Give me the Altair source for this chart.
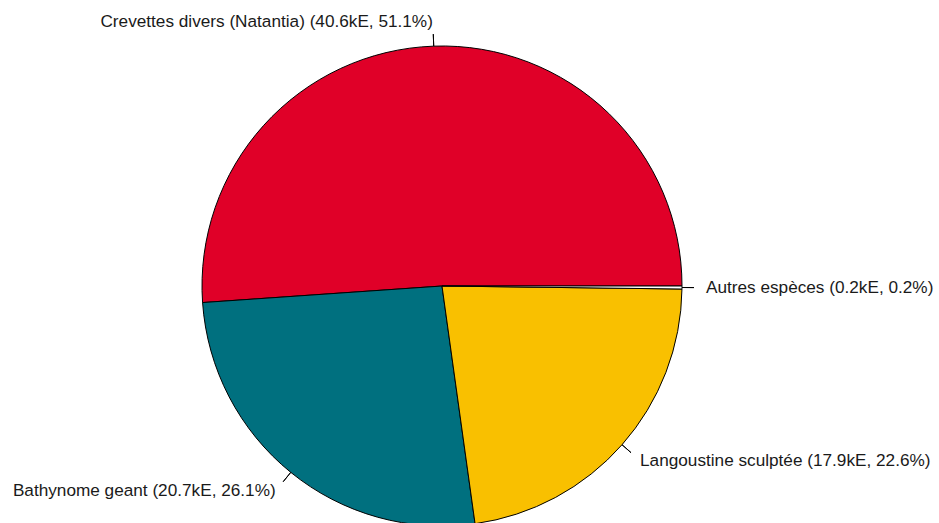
import math
import altair as alt
import pandas as pd

names = ["Crevettes divers (Natantia)", "Bathynome geant", "Langoustine sculptée", "Autres espèces"]
values_ke = [40.6, 20.7, 17.9, 0.2]
percents = [51.1, 26.1, 22.6, 0.2]
colors = ["#E00028", "#00707F", "#F9C000", "#FFFFFF"]

df = pd.DataFrame({"name": names, "val": values_ke, "pct": percents})
df["label"] = [f"{n} ({v}kE, {p}%)" for n, v, p in zip(names, values_ke, percents)]

CX, CY, R = 442, 286, 240
theta_scale = alt.Scale(domain=[0, 100], range=[math.pi / 2, math.pi / 2 + 2 * math.pi])
color_scale = alt.Scale(domain=names, range=colors)

base = alt.Chart(df).transform_window(
    idx="row_number()"
).transform_window(
    cum="sum(pct)", sort=[alt.SortField("idx", order="descending")]
).transform_calculate(
    mid="datum.cum - datum.pct / 2",
    side="sin(PI / 2 + 2 * PI * (datum.cum - datum.pct / 2) / 100) >= 0 ? 'right' : 'left'",
)

pie = base.mark_arc(stroke="black", strokeWidth=1).encode(
    theta=alt.Theta("pct:Q", stack=True, scale=theta_scale),
    order=alt.Order("idx:Q", sort="descending"),
    color=alt.Color("name:N", scale=color_scale, legend=None),
    radius=alt.value(R),
    x=alt.value(CX),
    y=alt.value(CY),
)

ticks = base.mark_arc(stroke="black", strokeWidth=1, fillOpacity=0).encode(
    theta=alt.Theta("mid:Q", stack=None, scale=theta_scale),
    theta2="mid:Q",
    radius=alt.value(R * 1.05),
    radius2=alt.value(R),
    x=alt.value(CX),
    y=alt.value(CY),
)

def labels(side, align):
    return base.transform_filter(f"datum.side == '{side}'").mark_text(
        align=align, baseline="middle", font="Liberation Sans", fontSize=17.2, color="#1a1a1a"
    ).encode(
        theta=alt.Theta("mid:Q", stack=None, scale=theta_scale),
        radius=alt.value(R * 1.1),
        text="label:N",
        x=alt.value(CX),
        y=alt.value(CY),
    )

chart = alt.layer(pie, ticks, labels("right", "left"), labels("left", "right")).properties(
    width=939, height=523, autosize=alt.AutoSizeParams(type="none"), padding=0
).configure_view(stroke=None)

chart.save("out.html", embed_options={"renderer": "svg", "actions": False})
